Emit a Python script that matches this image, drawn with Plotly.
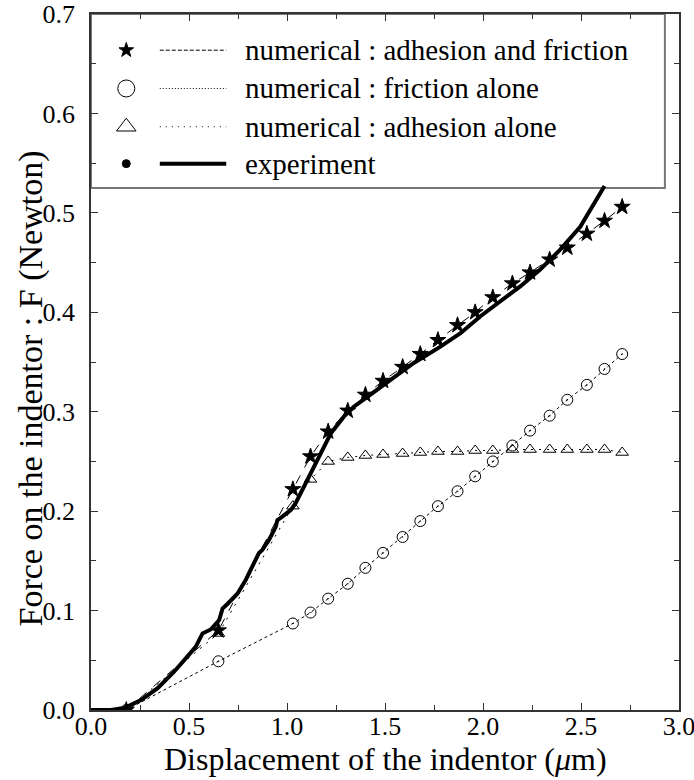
import plotly.graph_objects as go

# ---------------- data ----------------
num_x = [0.18, 0.65, 1.03, 1.12, 1.21, 1.31, 1.40, 1.49, 1.59, 1.68, 1.77,
         1.87, 1.96, 2.05, 2.15, 2.24, 2.34, 2.43, 2.53, 2.62, 2.71]
adh_fric_y = [0.0, 0.080, 0.222, 0.255, 0.280, 0.301, 0.317, 0.331, 0.345, 0.358, 0.372,
              0.387, 0.400, 0.415, 0.429, 0.440, 0.453, 0.465, 0.479, 0.492, 0.506]
fric_y = [0.0, 0.049, 0.087, 0.098, 0.112, 0.127, 0.143, 0.158, 0.174, 0.190, 0.205,
          0.220, 0.235, 0.250, 0.266, 0.281, 0.296, 0.312, 0.327, 0.343, 0.358]
adh_y = [0.0, 0.077, 0.205, 0.232, 0.250, 0.254, 0.256, 0.257, 0.258, 0.259, 0.260,
         0.260, 0.261, 0.261, 0.262, 0.262, 0.262, 0.262, 0.262, 0.262, 0.259]

exp_x = [0.0, 0.10, 0.17, 0.255, 0.34, 0.424, 0.509, 0.535, 0.569, 0.611, 0.654, 0.671,
         0.696, 0.747, 0.79, 0.815, 0.857, 0.874, 0.908, 0.942, 0.951, 0.976, 1.019,
         1.044, 1.078, 1.129, 1.172, 1.223, 1.29, 1.341, 1.41, 1.511, 1.647, 1.783,
         1.885, 1.987, 2.089, 2.19, 2.292, 2.394, 2.496, 2.547, 2.62]
exp_y = [0.0, 0.0, 0.002, 0.010, 0.022, 0.0385, 0.0577, 0.0637, 0.077, 0.081, 0.0905, 0.102,
         0.1066, 0.117, 0.131, 0.141, 0.158, 0.161, 0.171, 0.184, 0.191, 0.1945, 0.201,
         0.208, 0.221, 0.2415, 0.258, 0.278, 0.295, 0.305, 0.315, 0.330, 0.349, 0.3655,
         0.379, 0.396, 0.4115, 0.426, 0.443, 0.463, 0.486, 0.503, 0.527]

legend_labels = ["numerical : adhesion and friction", "numerical : friction alone",
                 "numerical : adhesion alone", "experiment"]
x_title = "Displacement of the indentor (<i>μ</i>m)"
y_title = "Force on the indentor : F (Newton)"

x_ticks = [0.0, 0.5, 1.0, 1.5, 2.0, 2.5, 3.0]
y_ticks = [0.0, 0.1, 0.2, 0.3, 0.4, 0.5, 0.6, 0.7]

FONT = "Liberation Serif"
BLACK = "black"

# ---------------- styles ----------------
series_styles = [
    dict(symbol="star", size=12, lw=1, dash="dash"),
    dict(symbol="circle-open-dot", size=11, lw=1, dash="dot"),
    dict(symbol="triangle-up-open", size=11, lw=1, dash="2px,6px"),
]
series_y = [adh_fric_y, fric_y, adh_y]

fig = go.Figure()

# experiment (thick line)
fig.add_trace(go.Scatter(x=exp_x, y=exp_y, mode="lines",
                         line=dict(color=BLACK, width=4), showlegend=False))

for ys, st in zip(series_y, series_styles):
    fig.add_trace(go.Scatter(
        x=num_x, y=ys, mode="lines+markers",
        line=dict(color=BLACK, width=st["lw"], dash=st["dash"]),
        marker=dict(symbol=st["symbol"], size=st["size"], color=BLACK,
                    line=dict(color=BLACK, width=1)),
        showlegend=False))

# ---------------- custom legend (overlay axes in unit coords) ----------------
leg_rows = [0.948, 0.893, 0.838, 0.785]
leg_marker_u = 0.060
leg_line_u = [0.117, 0.230]
leg_text_u = 0.259
leg_markers = [
    dict(symbol="star", size=11),
    dict(symbol="circle-open", size=17),
    dict(symbol="triangle-up-open", size=17),
    dict(symbol="circle", size=8),
]
leg_lines = [
    dict(width=1, dash="4px,2px"),
    dict(width=1, dash="1px,2px"),
    dict(width=1, dash="1px,5px"),
    dict(width=4, dash="solid"),
]
for v, mk, ln, lab in zip(leg_rows, leg_markers, leg_lines, legend_labels):
    fig.add_trace(go.Scatter(x=[leg_marker_u], y=[v], mode="markers", xaxis="x2", yaxis="y2",
                             marker=dict(symbol=mk["symbol"], size=mk["size"], color=BLACK,
                                         line=dict(color=BLACK, width=1)),
                             showlegend=False, hoverinfo="skip"))
    fig.add_trace(go.Scatter(x=leg_line_u, y=[v, v], mode="lines", xaxis="x2", yaxis="y2",
                             line=dict(color=BLACK, width=ln["width"], dash=ln["dash"]),
                             showlegend=False, hoverinfo="skip"))
    fig.add_annotation(x=leg_text_u, y=v, xref="x2", yref="y2", text=lab,
                       showarrow=False, xanchor="left", yanchor="middle",
                       font=dict(family=FONT, size=29, color=BLACK))

fig.add_shape(type="rect", xref="x2", yref="y2", x0=0.0, x1=0.976, y0=0.75, y1=1.0,
              line=dict(color="#777777", width=2), fillcolor="white", layer="below")

# axis titles (placed as text)
fig.add_annotation(x=0, y=0.462, xref="paper", yref="paper", xshift=-60,
                   text=y_title, textangle=-90, showarrow=False,
                   xanchor="center", yanchor="middle",
                   font=dict(family=FONT, size=34, color=BLACK))
fig.add_annotation(x=0.5, y=0, xref="paper", yref="paper", yshift=-49,
                   text=x_title, showarrow=False,
                   xanchor="center", yanchor="middle",
                   font=dict(family=FONT, size=32, color=BLACK))

axis_common = dict(
    showgrid=False, zeroline=False, showline=True, linecolor="#333333", linewidth=1.5,
    mirror="allticks", ticks="inside", ticklen=7, tickwidth=1, tickcolor="#333333",
    tickfont=dict(family=FONT, size=26, color=BLACK), automargin=False,
    ticklabeloverflow="allow",
)

fig.update_layout(
    width=694, height=780,
    margin=dict(l=91, r=15, t=14, b=70),
    paper_bgcolor="white", plot_bgcolor="white",
    font=dict(family=FONT, color=BLACK),
    xaxis=dict(range=[0, 3.0], tickvals=x_ticks, tickformat=".1f", ticklabelstandoff=-8,
               minor=dict(ticks="inside", ticklen=5, dtick=0.25, tickcolor="#333333"),
               **axis_common),
    yaxis=dict(range=[0, 0.7], tickvals=y_ticks, tickformat=".1f", ticklabelstandoff=9,
               minor=dict(ticks="inside", ticklen=5, dtick=0.05, tickcolor="#333333"),
               **axis_common),
    xaxis2=dict(overlaying="x", range=[0, 1], visible=False, fixedrange=True),
    yaxis2=dict(overlaying="y", range=[0, 1], visible=False, fixedrange=True),
    showlegend=False,
)

fig.write_html("out.html", config={"displayModeBar": False},
               post_script="document.body.style.margin='0';document.body.style.overflow='hidden';")
